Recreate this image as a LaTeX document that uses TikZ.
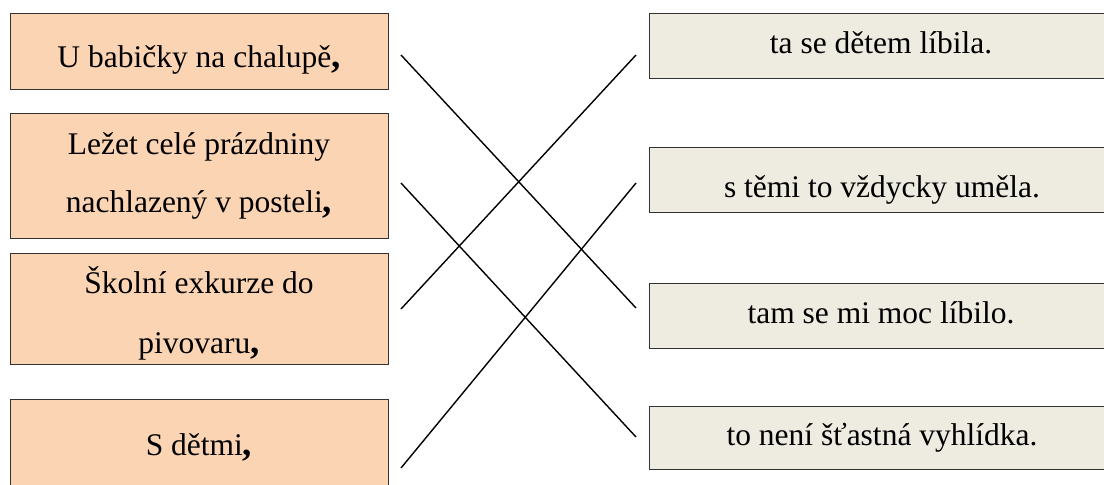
\documentclass[tikz,border=0pt]{standalone}
\usepackage{fontspec}
\setmainfont{Liberation Serif}
\definecolor{leftfill}{HTML}{FBD4B4}
\definecolor{rightfill}{HTML}{EEECE1}
\definecolor{boxline}{HTML}{333333}
\newcommand{\bigcomma}{{\fontsize{37}{37}\selectfont\bfseries ,}}
\begin{document}
\begin{tikzpicture}[x=1pt,y=-1pt,
  leftbox/.style={draw=boxline,line width=1.3pt,fill=leftfill,rectangle,inner sep=0pt,anchor=north west},
  rightbox/.style={draw=boxline,line width=1.3pt,fill=rightfill,rectangle,inner sep=0pt,anchor=north west},
  txt/.style={anchor=base,inner sep=0pt,font=\fontsize{31.5}{38}\selectfont},
  link/.style={draw=black,line width=1.4pt}]
\useasboundingbox (0,0) rectangle (1104,485);
\clip (0,0) rectangle (1104,485);
\fill[white] (0,0) rectangle (1104,485);
% left boxes
\node[leftbox,minimum width=378pt,minimum height=76pt] (L1) at (10,13) {};
\node[leftbox,minimum width=378pt,minimum height=125pt] (L2) at (10,113) {};
\node[leftbox,minimum width=378pt,minimum height=111pt] (L3) at (10,253) {};
\node[leftbox,minimum width=378pt,minimum height=100pt] (L4) at (10,399) {};
% right boxes
\node[rightbox,minimum width=465pt,minimum height=65pt] (R1) at (649,13) {};
\node[rightbox,minimum width=465pt,minimum height=65pt] (R2) at (649,147) {};
\node[rightbox,minimum width=465pt,minimum height=65pt] (R3) at (649,283) {};
\node[rightbox,minimum width=465pt,minimum height=63pt] (R4) at (649,406) {};
% texts
\node[txt] (t1) at (199,67) {U babičky na chalupě\bigcomma};
\node[txt] (t2a) at (199,154) {Ležet celé prázdniny};
\node[txt] (t2b) at (199,212) {nachlazený v posteli\bigcomma};
\node[txt] (t3a) at (199,293) {Školní exkurze do};
\node[txt] (t3b) at (199,353) {pivovaru\bigcomma};
\node[txt] (t4) at (199,455) {S dětmi\bigcomma};
\node[txt] (u1) at (881,53) {ta se dětem líbila.};
\node[txt] (u2) at (882,197) {s těmi to vždycky uměla.};
\node[txt] (u3) at (881,323) {tam se mi moc líbilo.};
\node[txt] (u4) at (882,445) {to není šťastná vyhlídka.};
% connector end points
\coordinate (a1) at (401,55);
\coordinate (a2) at (401,183);
\coordinate (a3) at (401,309);
\coordinate (a4) at (401,468);
\coordinate (b1) at (636,55);
\coordinate (b2) at (636,183);
\coordinate (b3) at (636,308);
\coordinate (b4) at (636,437);
\draw[link] (a1) -- (b3);
\draw[link] (a2) -- (b4);
\draw[link] (a3) -- (b1);
\draw[link] (a4) -- (b2);
\end{tikzpicture}
\end{document}
